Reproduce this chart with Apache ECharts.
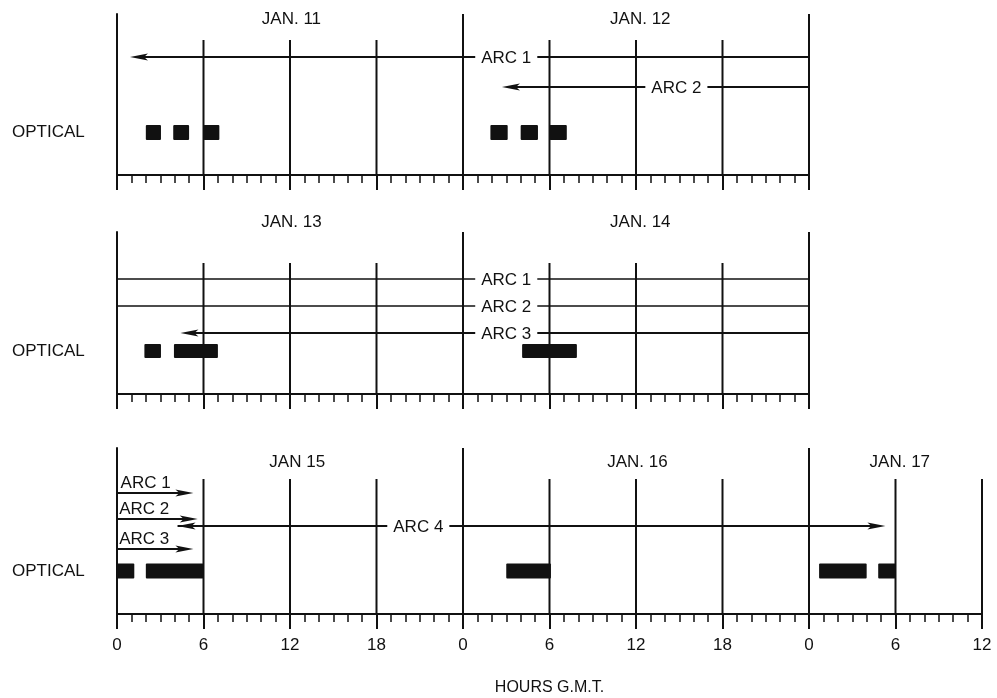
<!DOCTYPE html>
<html><head><meta charset="utf-8">
<script src="https://cdn.jsdelivr.net/npm/echarts@6/dist/echarts.min.js"></script>
<style>html,body{margin:0;padding:0;background:#fff}#c{width:997px;height:698px}</style>
</head><body><div id="c"></div>
<script>
// ================= DATA =================
const tickHours = [0, 6, 12, 18, 24, 30, 36, 42, 48, 54, 60];
const panelSpans = [48, 48, 60];

const dayNames1 = ['JAN. 11', 'JAN. 12'];
const dayCenters1 = [12.1, 36.3];
const dayNames2 = ['JAN. 13', 'JAN. 14'];
const dayCenters2 = [12.1, 36.3];
const dayNames3 = ['JAN 15', 'JAN. 16', 'JAN. 17'];
const dayCenters3 = [12.5, 36.1, 54.3];

const arcNames1 = ['ARC 1', 'ARC 2'];
const arcFrom1 = [48, 48];
const arcTo1 = [0.9, 26.7];
const arcLabelAt1 = [27.0, 38.8];
const arcHeads1 = ['end', 'end'];

const arcNames2 = ['ARC 1', 'ARC 2', 'ARC 3'];
const arcFrom2 = [0, 0, 48];
const arcTo2 = [48, 48, 4.4];
const arcLabelAt2 = [27.0, 27.0, 27.0];
const arcHeads2 = ['none', 'none', 'end'];

const arcNames3 = ['ARC 1', 'ARC 2', 'ARC 3', 'ARC 4'];
const arcFrom3 = [0, 0, 0, 4.2];
const arcTo3 = [5.3, 5.6, 5.3, 53.3];
const arcLabelAt3 = [0.25, 0.15, 0.15, 20.9];
const arcHeads3 = ['end', 'end', 'end', 'both'];

const optStart1 = [2.0, 3.9, 6.0, 25.9, 28.0, 30.0];
const optEnd1   = [3.05, 5.0, 7.1, 27.1, 29.2, 31.2];
const optStart2 = [1.9, 3.95, 28.1];
const optEnd2   = [3.05, 7.0, 31.9];
const optStart3 = [0, 2.0, 27.0, 48.7, 52.8];
const optEnd3   = [1.2, 6.0, 30.1, 52.0, 54.0];

const rowLabel = 'OPTICAL';
const axisTitle = 'HOURS G.M.T.';

// ================= LAYOUT =================
const FONT = '"Liberation Sans", Arial, sans-serif';
const FS = 17;
const INK = '#111';
const panels = [
  { top: 14,  width: 692, height: 161, sixTop: 135, dayY: 156, arcRows: [118, 88], arcMode: ['inline','inline'], optY: 42.5, optH: 15,
    days: [dayNames1, dayCenters1], arcs: [arcNames1, arcFrom1, arcTo1, arcLabelAt1, arcHeads1], opt: [optStart1, optEnd1] },
  { top: 232, width: 692, height: 162, sixTop: 131, dayY: 172, arcRows: [115, 88, 61], arcMode: ['inline','inline','inline'], optY: 43, optH: 14,
    days: [dayNames2, dayCenters2], arcs: [arcNames2, arcFrom2, arcTo2, arcLabelAt2, arcHeads2], opt: [optStart2, optEnd2] },
  { top: 448, width: 865, height: 166, sixTop: 135, dayY: 152, arcRows: [121, 95, 65, 88], arcMode: ['above','above','above','inline'], optY: 43, optH: 15,
    days: [dayNames3, dayCenters3], arcs: [arcNames3, arcFrom3, arcTo3, arcLabelAt3, arcHeads3], opt: [optStart3, optEnd3] }
];

function arrowHead(tip, dir) {
  const L = 18, W = 3.5;
  const bx = tip[0] - dir * L;
  return { type: 'polygon', shape: { points: [[tip[0], tip[1]], [bx, tip[1] - W], [bx + dir * 4, tip[1]], [bx, tip[1] + W]] },
           style: { fill: INK } };
}

const grids = [], xAxes = [], yAxes = [], series = [];
panels.forEach((p, k) => {
  const span = panelSpans[k];
  const last = k === panels.length - 1;
  grids.push({ left: 117, top: p.top, width: p.width, height: p.height });
  xAxes.push({
    type: 'value', gridIndex: k, min: 0, max: span, interval: 6,
    axisLine: { show: true, onZero: false, lineStyle: { color: INK, width: 2 } },
    axisTick: { show: true, length: 15, lineStyle: { color: INK, width: 2 } },
    minorTick: { show: true, splitNumber: 6, length: 8, lineStyle: { color: INK, width: 1.5 } },
    splitLine: { show: false },
    axisLabel: { show: last, margin: 23, fontSize: FS, fontFamily: FONT, color: INK,
                 showMaxLabel: true, showMinLabel: true, formatter: v => String(v % 24) },
    name: last ? axisTitle : '', nameLocation: 'middle', nameGap: 66,
    nameTextStyle: { fontSize: 16, fontFamily: FONT, color: INK }
  });
  yAxes.push({
    type: 'value', gridIndex: k, min: 0, max: p.height,
    axisLine: { show: true, lineStyle: { color: INK, width: 2 } },
    axisTick: { show: false }, axisLabel: { show: false }, splitLine: { show: false }
  });

  // vertical hour lines
  const vdata = tickHours.filter(h => h > 0 && h <= span).map(h => [h, h % 24 === 0 ? p.height : p.sixTop]);
  series.push({
    type: 'custom', xAxisIndex: k, yAxisIndex: k, data: vdata, silent: true, z: 2, clip: false,
    renderItem: (params, api) => {
      const a = api.coord([api.value(0), 0]);
      const b = api.coord([api.value(0), api.value(1)]);
      return { type: 'line', shape: { x1: a[0], y1: a[1], x2: b[0], y2: b[1] }, style: { stroke: INK, lineWidth: 2 } };
    }
  });

  // day labels
  const [dn, dc] = p.days;
  series.push({
    type: 'custom', xAxisIndex: k, yAxisIndex: k, data: dc.map((c, i) => [c, p.dayY, i]), silent: true, z: 3, clip: false,
    renderItem: (params, api) => {
      const pt = api.coord([api.value(0), api.value(1)]);
      return { type: 'text', style: { text: dn[api.value(2)], x: pt[0], y: pt[1], align: 'center', verticalAlign: 'middle',
        fontSize: FS, fontFamily: FONT, fill: INK } };
    }
  });

  // arcs
  const [an, af, at, al, ah] = p.arcs;
  series.push({
    type: 'custom', xAxisIndex: k, yAxisIndex: k, data: an.map((n, i) => [af[i], p.arcRows[i], at[i], i]), silent: true, z: 4, clip: false,
    renderItem: (params, api) => {
      const i = api.value(3);
      const row = api.value(1);
      const a = api.coord([api.value(0), row]);
      const b = api.coord([api.value(2), row]);
      const dir = b[0] > a[0] ? 1 : -1;
      const children = [{ type: 'line', shape: { x1: a[0], y1: a[1], x2: b[0] - (ah[i] !== 'none' ? dir * 10 : 0), y2: b[1] },
                          style: { stroke: INK, lineWidth: k === 1 && i < 2 ? 1.5 : 2 } }];
      if (ah[i] === 'end' || ah[i] === 'both') children.push(arrowHead(b, dir));
      if (ah[i] === 'both') children.push(arrowHead(a, -dir));
      const lp = api.coord([al[i], row]);
      if (p.arcMode[i] === 'inline') {
        children.push({ type: 'text', style: { text: an[i], x: lp[0], y: lp[1] + 1, align: 'center', verticalAlign: 'middle',
          fontSize: FS, fontFamily: FONT, fill: INK, backgroundColor: '#fff', padding: [1, 6] } });
      } else {
        children.push({ type: 'text', style: { text: an[i], x: lp[0], y: lp[1] - 1, align: 'left', verticalAlign: 'bottom',
          fontSize: FS, fontFamily: FONT, fill: INK } });
      }
      return { type: 'group', children };
    }
  });

  // optical bars
  const [os, oe] = p.opt;
  series.push({
    type: 'custom', xAxisIndex: k, yAxisIndex: k, data: os.map((s, i) => [s, p.optY, oe[i]]), silent: true, z: 5, clip: false,
    renderItem: (params, api) => {
      const a = api.coord([api.value(0), api.value(1)]);
      const b = api.coord([api.value(2), api.value(1)]);
      return { type: 'rect', shape: { x: a[0], y: a[1] - p.optH / 2, width: b[0] - a[0], height: p.optH, r: 1 }, style: { fill: INK } };
    }
  });

  // row label
  series.push({
    type: 'custom', xAxisIndex: k, yAxisIndex: k, data: [[0, p.optY]], silent: true, z: 5, clip: false,
    renderItem: (params, api) => {
      const a = api.coord([api.value(0), api.value(1)]);
      return { type: 'text', style: { text: rowLabel, x: 12, y: a[1], align: 'left', verticalAlign: 'middle',
        fontSize: FS, fontFamily: FONT, fill: INK } };
    }
  });
});

const chart = echarts.init(document.getElementById('c'), null, { renderer: 'canvas' });
chart.setOption({
  backgroundColor: '#fff',
  animation: false,
  textStyle: { fontFamily: FONT },
  grid: grids, xAxis: xAxes, yAxis: yAxes, series
});
</script></body></html>
